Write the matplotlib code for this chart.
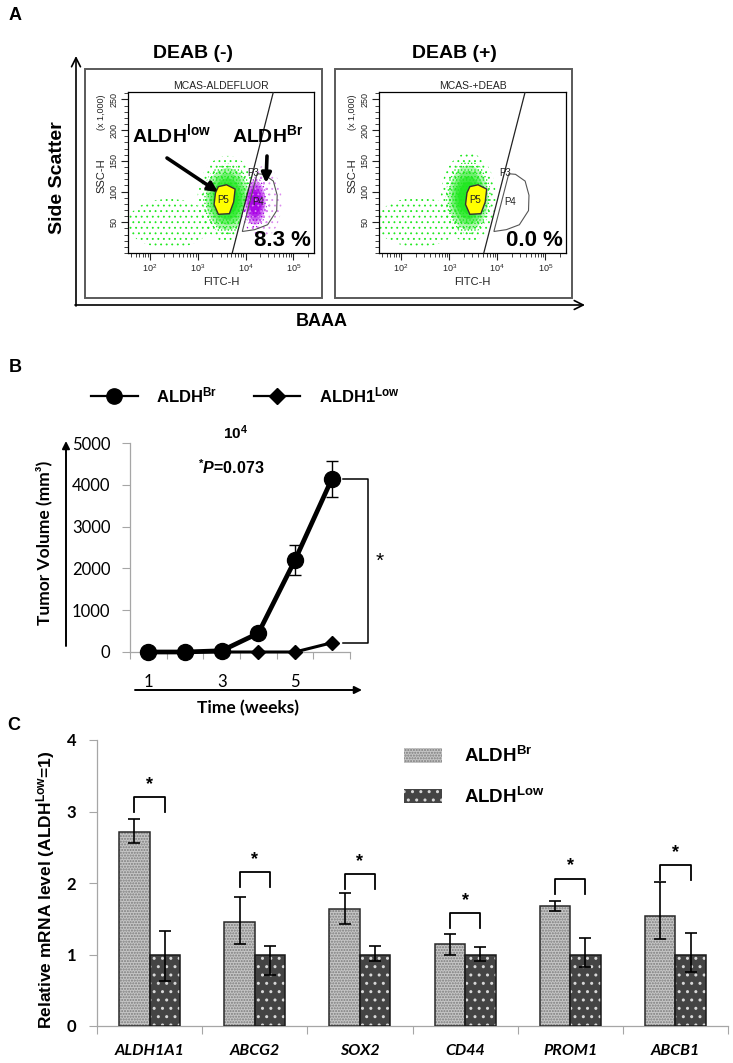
import numpy as np
import matplotlib
matplotlib.use('Agg')
import matplotlib.pyplot as plt
from matplotlib.patches import Ellipse, Polygon, Rectangle, Patch
from matplotlib.lines import Line2D
from matplotlib.ticker import MultipleLocator, FixedLocator

plt.rcParams['font.family'] = ['Liberation Sans', 'DejaVu Sans']
plt.rcParams['mathtext.default'] = 'regular'
plt.rcParams['mathtext.fontset'] = 'custom'
plt.rcParams['mathtext.it'] = 'Liberation Sans:italic:bold'
plt.rcParams['hatch.linewidth'] = 1.0

W, H = 733, 1063

################################ data ##########################################

# A: flow cytometry gates (x = log10 FITC-H, y = SSC-H x1000)
p3_x = [3.72, 4.58]
p3_y = [0, 262]
p4_x = [3.93, 4.24, 4.38, 4.58, 4.66, 4.65, 4.46, 4.19]
p4_y = [35, 129, 128, 117, 94, 69, 46, 38]
p5_x = [3.43, 3.60, 3.78, 3.75, 3.66, 3.43, 3.34, 3.37]
p5_y = [108, 111, 104, 83, 64, 63, 79, 98]

# cell clouds: centre x, centre y, width (dex), height, dense (1) or sparse (0)
green_neg = [(3.62, 88, 1.25, 140, 1), (2.40, 48, 1.75, 80, 0)]
purple_neg = [(4.20, 82, 0.60, 100, 1), (4.38, 84, 0.75, 115, 0)]
green_pos = [(3.40, 90, 1.15, 145, 1), (2.35, 50, 1.75, 80, 0)]
purple_pos = []

sample_names = ['MCAS-ALDEFLUOR', 'MCAS-+DEAB']
deab_titles = ['DEAB (-)', 'DEAB (+)']
pct_labels = ['8.3 %', '0.0 %']

# B: tumour growth
weeks = [1, 2, 3, 4, 5, 6]
week_labels = ['1', '', '3', '', '5', '']
vol_br = [0, 0, 30, 450, 2200, 4130]
vol_br_err = [0, 0, 0, 0, 350, 430]
vol_low = [0, 0, 0, 0, 0, 220]

# C: relative mRNA
genes = ['ALDH1A1', 'ABCG2', 'SOX2', 'CD44', 'PROM1', 'ABCB1']
br_vals = [2.72, 1.45, 1.63, 1.14, 1.68, 1.54]
br_lo = [0.16, 0.30, 0.21, 0.14, 0.07, 0.32]
br_hi = [0.18, 0.35, 0.23, 0.15, 0.07, 0.48]
low_vals = [1, 1, 1, 1, 1, 1]
low_lo = [0.37, 0.29, 0.09, 0.09, 0.18, 0.24]
low_hi = [0.33, 0.12, 0.12, 0.11, 0.23, 0.30]
bracket_top = [3.20, 2.15, 2.12, 1.58, 2.06, 2.25]


def box(x0, y0, x1, y1):
    return [x0 / W, 1 - y1 / H, (x1 - x0) / W, (y1 - y0) / H]


fig = plt.figure(figsize=(W / 100, H / 100), dpi=100)

################################ A ##########################################

def p3_edge(y):
    return p3_x[0] + (p3_x[1] - p3_x[0]) * (y - p3_y[0]) / (p3_y[1] - p3_y[0])


def add_clipped(ax, patch, clip, hatch_lw=None):
    if hatch_lw is not None and hasattr(patch, 'set_hatch_linewidth'):
        patch.set_hatch_linewidth(hatch_lw)
    ax.add_patch(patch)
    patch.set_clip_path(clip)


def draw_cloud(ax, pop, color, clip):
    cx, cy, w, h, dense = pop
    # speckled fringe
    with plt.rc_context({'hatch.linewidth': 0.6}):
        add_clipped(ax, Ellipse((cx, cy), w, h, facecolor='none', edgecolor=color,
                                hatch='...', lw=0, zorder=1), clip, 0.6)
        if dense:
            add_clipped(ax, Ellipse((cx, cy), w * 0.82, h * 0.82, facecolor='none',
                                    edgecolor=color, hatch='.....', lw=0, zorder=1), clip, 0.6)
    if not dense:
        return
    for scale, alpha in [(0.72, 0.35), (0.6, 0.45), (0.48, 0.6), (0.36, 0.75)]:
        add_clipped(ax, Ellipse((cx, cy), w * scale, h * scale, facecolor=color,
                                alpha=alpha, lw=0, zorder=1), clip)


def flow_panel(rect, name, greens, purples, pct):
    ax = fig.add_axes(box(*rect))
    ax.set_xlim(1.54, 5.43)
    ax.set_ylim(0, 262)
    left_side = Polygon([(0, -30), (p3_edge(-30), -30), (p3_edge(300), 300), (0, 300)],
                        closed=True, transform=ax.transData)
    right_side = Polygon([(p3_edge(-30), -30), (8, -30), (8, 300), (p3_edge(300), 300)],
                         closed=True, transform=ax.transData)
    for pop in greens:
        draw_cloud(ax, pop, '#1ee81e', left_side)
    for pop, col in zip(purples, ['#a800e6', '#dc8cf0']):
        draw_cloud(ax, pop, col, right_side)

    ax.plot(p3_x, p3_y, color='#222222', lw=0.9, zorder=3)
    ax.add_patch(Polygon(np.column_stack([p4_x, p4_y]), closed=True, fc='none',
                         ec='#555555', lw=0.8, zorder=3))
    ax.add_patch(Polygon(np.column_stack([p5_x, p5_y]), closed=True, fc='#ffff00',
                         ec='#333333', lw=1.0, zorder=3))
    ax.text(4.16, 131, 'P3', fontsize=7, color='#222222', ha='center', va='center', zorder=4)
    ax.text(4.27, 83, 'P4', fontsize=7, color='#222222', ha='center', va='center', zorder=4)
    ax.text(3.53, 86, 'P5', fontsize=7, color='#222222', ha='center', va='center', zorder=4)
    ax.text(0.985, 0.015, pct, transform=ax.transAxes, ha='right', va='bottom',
            fontsize=16, fontweight='bold', zorder=5)

    ax.set_xticks([2, 3, 4, 5], labels=[r'$10^{2}$', r'$10^{3}$', r'$10^{4}$', r'$10^{5}$'])
    minor = [np.log10(k * 10.0 ** n) for n in range(1, 6) for k in range(2, 10)]
    ax.xaxis.set_minor_locator(FixedLocator([m for m in minor if 1.54 < m < 5.43]))
    ax.set_yticks([50, 100, 150, 200, 250])
    ax.yaxis.set_minor_locator(MultipleLocator(10))
    ax.tick_params(which='major', length=5, width=0.8, labelsize=6.5, pad=2, colors='#222222')
    ax.tick_params(which='minor', length=3, width=0.6, colors='#222222')
    ax.tick_params(axis='y', labelrotation=90)
    for lbl in ax.get_yticklabels():
        lbl.set_va('center')
    for s in ax.spines.values():
        s.set_linewidth(0.9)
    ax.set_title(name, fontsize=7.5, pad=2, color='#222222')
    ax.set_xlabel('FITC-H', fontsize=8, labelpad=2, color='#222222')
    ax.text(-0.14, 0.48, 'SSC-H', rotation=90, transform=ax.transAxes, ha='center',
            va='center', fontsize=8, color='#222222')
    ax.text(-0.14, 0.875, '(x 1,000)', rotation=90, transform=ax.transAxes, ha='center',
            va='center', fontsize=6.5, color='#222222')
    return ax


ax_a1 = flow_panel((128, 92, 314, 253), sample_names[0], green_neg, purple_neg, pct_labels[0])
ax_a2 = flow_panel((379, 92, 566, 253), sample_names[1], green_pos, purple_pos, pct_labels[1])

################################ B ##########################################

ax_b = fig.add_axes(box(130, 443, 350, 652))
ax_b.set_xlim(0.5, 6.5)
ax_b.set_ylim(0, 5000)
ax_b.plot(weeks, vol_low, color='black', lw=2.2, marker='D', ms=7, clip_on=False, zorder=3)
ax_b.errorbar(weeks, vol_br, yerr=vol_br_err, color='black', lw=3.4, marker='o', ms=11.5,
              ecolor='black', elinewidth=1, capsize=4, capthick=1, clip_on=False, zorder=4)
# significance bracket
bx0, bx1 = 6.3, 7.0
ax_b.plot([bx0, bx1, bx1, bx0], [vol_br[-1], vol_br[-1], vol_low[-1], vol_low[-1]],
          color='black', lw=1.1, clip_on=False)
ax_b.text(7.3, (vol_br[-1] + vol_low[-1]) / 2, '*', fontsize=15, ha='center', va='center',
          clip_on=False)

for side in ['top', 'right']:
    ax_b.spines[side].set_visible(False)
for side in ['left', 'bottom']:
    ax_b.spines[side].set_color('#a6a6a6')
    ax_b.spines[side].set_linewidth(0.9)
ax_b.set_yticks(range(0, 5001, 1000), labels=[str(v) for v in range(0, 5001, 1000)],
                fontfamily='Lato', fontsize=12)
ax_b.set_xticks(np.arange(0.5, 7, 1), labels=[''] * 7)
ax_b.set_xticks(weeks, labels=week_labels, minor=True, fontfamily='Lato', fontsize=12)
ax_b.tick_params(axis='y', length=6, colors='#a6a6a6', labelcolor='black', pad=8)
ax_b.tick_params(axis='x', which='major', length=5, colors='#a6a6a6')
ax_b.tick_params(axis='x', which='minor', length=0, labelcolor='black', pad=16)

leg_b = [Line2D([], [], color='black', lw=1.6, marker='o', ms=11),
         Line2D([], [], color='black', lw=1.6, marker='D', ms=8)]
fig.legend(leg_b, ['ALDH$^{Br}$', 'ALDH1$^{Low}$'], ncol=2, frameon=False,
           loc='center left', bbox_to_anchor=(91 / W, 1 - 395 / H),
           prop={'weight': 'bold', 'size': 12}, handlelength=2.8, handletextpad=1.1,
           columnspacing=2.2, borderpad=0, borderaxespad=0)

################################ C ##########################################

ax_c = fig.add_axes(box(97, 740, 728, 1026))
ax_c.set_xlim(0, len(genes))
ax_c.set_ylim(0, 4)
xc = np.arange(len(genes)) + 0.5
bw = 0.29
xb = xc - bw / 2
xl = xc + bw / 2
ax_c.bar(xb, br_vals, bw, color='#c6c6c6', edgecolor='#7c7c7c', hatch='......', lw=0, zorder=2)
ax_c.bar(xb, br_vals, bw, fill=False, edgecolor='#2a2a2a', lw=1.1, zorder=3)
ax_c.bar(xl, low_vals, bw, color='#444444', edgecolor='#d8d8d8', hatch='..', lw=0, zorder=2)
ax_c.bar(xl, low_vals, bw, fill=False, edgecolor='#1a1a1a', lw=1.1, zorder=3)
ax_c.errorbar(xb, br_vals, yerr=[br_lo, br_hi], fmt='none', ecolor='black', elinewidth=1.2,
              capsize=4.5, capthick=1.2, zorder=4)
ax_c.errorbar(xl, low_vals, yerr=[low_lo, low_hi], fmt='none', ecolor='black', elinewidth=1.2,
              capsize=4.5, capthick=1.2, zorder=4)
for i, top in enumerate(bracket_top):
    ax_c.plot([xb[i], xb[i], xl[i], xl[i]], [top - 0.21, top, top, top - 0.21],
              color='black', lw=1.3, zorder=4)
    ax_c.text(xc[i], top + 0.06, '*', ha='center', va='bottom', fontsize=13,
              fontweight='bold', zorder=4)

for side in ['top', 'right']:
    ax_c.spines[side].set_visible(False)
for side in ['left', 'bottom']:
    ax_c.spines[side].set_color('#a6a6a6')
    ax_c.spines[side].set_linewidth(0.9)
ax_c.set_yticks(range(5), labels=[str(v) for v in range(5)], fontfamily='Lato',
                fontweight='bold', fontsize=12)
ax_c.set_xticks(range(len(genes) + 1), labels=[''] * (len(genes) + 1))
ax_c.set_xticks(xc, labels=genes, minor=True, fontfamily='Lato', fontweight='bold',
                fontstyle='italic', fontsize=11.5)
ax_c.tick_params(axis='y', length=6, colors='#a6a6a6', labelcolor='black', pad=9)
ax_c.tick_params(axis='x', which='major', length=6, colors='#a6a6a6')
ax_c.tick_params(axis='x', which='minor', length=0, labelcolor='black', pad=13)

leg_c = [Patch(facecolor='#c6c6c6', edgecolor='#7c7c7c', hatch='......', lw=0),
         Patch(facecolor='#444444', edgecolor='#d8d8d8', hatch='..', lw=0)]
fig.legend(leg_c, ['ALDH$^{Br}$', 'ALDH$^{Low}$'], frameon=False, loc='upper left',
           bbox_to_anchor=(404 / W, 1 - 746 / H), prop={'weight': 'bold', 'size': 13.5},
           handlelength=2.0, handleheight=0.8, handletextpad=1.2, labelspacing=1.1,
           borderpad=0, borderaxespad=0)

################################ annotations ##########################################

ax_t = fig.add_axes([0, 0, 1, 1], zorder=10)
ax_t.set_xlim(0, W)
ax_t.set_ylim(H, 0)
ax_t.axis('off')

for lbl, (px, py) in zip(['A', 'B', 'C'], [(15, 15), (15, 368), (14, 725)]):
    ax_t.text(px, py, lbl, fontsize=13, fontweight='bold', ha='center', va='center')

# panel A frames, titles and axis arrows
ax_t.add_patch(Rectangle((85, 69), 237, 229, fill=False, ec='#5a5a5a', lw=1.4))
ax_t.add_patch(Rectangle((335, 69), 237, 229, fill=False, ec='#5a5a5a', lw=1.4))
ax_t.text(193, 53, deab_titles[0], fontsize=14, fontweight='bold', ha='center', va='center')
ax_t.text(454, 53, deab_titles[1], fontsize=14, fontweight='bold', ha='center', va='center')
arrow_thin = dict(arrowstyle='->', color='black', lw=1.2, mutation_scale=16, shrinkA=0, shrinkB=0)
ax_t.annotate('', xy=(76, 56), xytext=(76, 306), arrowprops=arrow_thin)
ax_t.annotate('', xy=(585, 305), xytext=(75, 305), arrowprops=arrow_thin)
ax_t.text(57, 178, 'Side Scatter', rotation=90, fontsize=14, fontweight='bold',
          ha='center', va='center')
ax_t.text(322, 322, 'BAAA', fontsize=13, fontweight='bold', ha='center', va='center')
ax_t.text(132, 142, 'ALDH$^{low}$', fontsize=14, fontweight='bold', ha='left', va='baseline')
ax_t.text(232, 142, 'ALDH$^{Br}$', fontsize=14, fontweight='bold', ha='left', va='baseline')
arrow_bold = dict(arrowstyle='-|>', color='black', lw=2.6, mutation_scale=14, shrinkA=0, shrinkB=0)
ax_t.annotate('', xy=(218, 192), xytext=(167, 158), arrowprops=arrow_bold)
ax_t.annotate('', xy=(266, 183), xytext=(267, 156), arrowprops=arrow_bold)

# panel B texts and arrows
ax_t.annotate('', xy=(66, 441), xytext=(66, 646),
              arrowprops=dict(arrowstyle='-|>', color='black', lw=1.4, mutation_scale=11,
                              shrinkA=0, shrinkB=0))
ax_t.annotate('', xy=(362, 690), xytext=(135, 690),
              arrowprops=dict(arrowstyle='-|>', color='black', lw=1.4, mutation_scale=11,
                              shrinkA=0, shrinkB=0))
ax_t.text(44, 543, 'Tumor Volume (mm³)', rotation=90, fontfamily='Lato', fontweight='bold',
          fontsize=12.5, ha='center', va='center')
ax_t.text(248, 708, 'Time (weeks)', fontfamily='Lato', fontweight='bold', fontsize=12.5,
          ha='center', va='center')
ax_t.text(235, 433, '10$^{4}$', fontsize=11, fontweight='bold', ha='center', va='center')
ax_t.text(231, 468, r'$^{*}\mathit{P}$=0.073', fontsize=11.5, fontweight='bold',
          ha='center', va='center')

# panel C y label
ax_t.text(46, 890, 'Relative mRNA level (ALDH$^{Low}$=1)', rotation=90, fontsize=12.5,
          fontweight='bold', ha='center', va='center')

fig.savefig('out.png', dpi=100)
